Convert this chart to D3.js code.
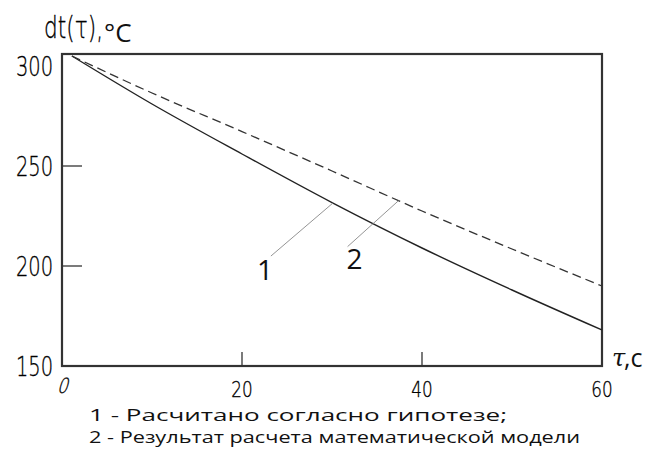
<!DOCTYPE html>
<html><head><meta charset="utf-8">
<script src="https://cdn.jsdelivr.net/npm/d3@7"></script>
<style>body{margin:0;background:#fff}</style>
</head><body>
<svg id="c" width="656" height="449"></svg>
<script>
// data
const tHyp   = [1.1, 10, 20, 30, 40, 50, 60];
const vHyp   = [305, 281, 256, 231.7, 209, 188, 168];
const tModel = [1.1, 10, 20, 30, 40, 50, 60];
const vModel = [305, 286.5, 267.2, 247.5, 227.5, 208.5, 190];
const xTicks = [0, 20, 40, 60];
const yTicks = [150, 200, 250, 300];
const labelAnchors = [{name:"1", t:30.1}, {name:"2", t:37.4}];
const legendLines = ["1 - Расчитано согласно гипотезе;", "2 - Результат расчета математической модели"];

const svg = d3.select("#c");
const x = d3.scaleLinear().domain([0, 60]).range([62, 602]);
const y = d3.scaleLinear().domain([150, 306]).range([366, 54]);

const narrow = "'DejaVu Sans', sans-serif";
function thin(sel) {
  return sel.attr("font-family", narrow).attr("font-weight", 200).attr("fill", "#000")
    .attr("stroke", "#000").attr("stroke-width", 0.35);
}

// frame
svg.append("rect").attr("x", x(0)).attr("y", y(306)).attr("width", x(60)-x(0)).attr("height", y(150)-y(306))
  .attr("fill", "none").attr("stroke", "#333").attr("stroke-width", 2.2);

// inner ticks
yTicks.filter(d => d > 150 && d < 300).forEach(d => {
  svg.append("line").attr("x1", x(0)).attr("x2", x(0)+20).attr("y1", y(d)).attr("y2", y(d))
    .attr("stroke", "#333").attr("stroke-width", 1.3);
});
xTicks.filter(d => d > 0 && d < 60).forEach(d => {
  svg.append("line").attr("x1", x(d)).attr("x2", x(d)).attr("y1", y(150)).attr("y2", y(150)-14)
    .attr("stroke", "#333").attr("stroke-width", 1.3);
});

// y labels
yTicks.forEach(d => {
  thin(svg.append("text")).attr("transform", `translate(${x(0)-9},${y(d)+10}) scale(0.72,1)`)
    .attr("text-anchor", "end").attr("font-size", 27).text(d);
});
// x labels
xTicks.forEach(d => {
  const g = thin(svg.append("text")).attr("font-size", 21).attr("text-anchor", "middle");
  if (d === 0) {
    g.attr("transform", `translate(${x(d)},${393}) skewX(-16) scale(0.8,1)`).text(d);
  } else {
    g.attr("transform", `translate(${x(d)},${397}) scale(0.8,1)`).text(d);
  }
});

// axis titles
thin(svg.append("text")).attr("transform", "translate(44,38) scale(0.7,1)").attr("font-size", 31).text("dt(τ),");
svg.append("text").attr("x", 104).attr("y", 42).attr("font-family", "'Open Sans', sans-serif")
  .attr("font-size", 26).attr("fill", "#111").text("°C");

svg.append("text").attr("x", 612).attr("y", 366).attr("font-family", "'DejaVu Serif', serif")
  .attr("font-style", "italic").attr("font-size", 24).attr("fill", "#111").text("τ");
svg.append("text").attr("x", 624).attr("y", 367).attr("font-family", "'Open Sans', sans-serif")
  .attr("font-size", 25).attr("fill", "#111").text(",c");

// curves
const line = d3.line().x(d => x(d[0])).y(d => y(d[1])).curve(d3.curveMonotoneX);
const hyp = tHyp.map((t, i) => [t, vHyp[i]]);
const mod = tModel.map((t, i) => [t, vModel[i]]);
svg.append("path").attr("d", line(hyp)).attr("fill", "none").attr("stroke", "#222").attr("stroke-width", 1.4);
svg.append("path").attr("d", line(mod)).attr("fill", "none").attr("stroke", "#333").attr("stroke-width", 1.3)
  .attr("stroke-dasharray", "9,5");

// leader lines and number labels
function interp(ts, vs, t) {
  return d3.scaleLinear().domain(ts).range(vs)(t);
}
const series = [[tHyp, vHyp], [tModel, vModel]];
labelAnchors.forEach((a, i) => {
  const ax = x(a.t), ay = y(interp(series[i][0], series[i][1], a.t));
  const ex = ax - (i === 0 ? 62 : 51), ey = ay + (i === 0 ? 53 : 46);
  svg.append("line").attr("x1", ex).attr("y1", ey).attr("x2", ax).attr("y2", ay)
    .attr("stroke", "#888").attr("stroke-width", 0.9);
  svg.append("text").attr("x", i === 0 ? ex - 6 : ex + 7).attr("y", i === 0 ? ey + 24 : ey + 22)
    .attr("text-anchor", "middle").attr("font-family", "'Open Sans', sans-serif")
    .attr("font-size", 28).attr("fill", "#111").text(a.name);
});

// legend text
const legendWidths = [418, 491];
legendLines.forEach((s, i) => {
  svg.append("text").attr("x", 89).attr("y", 421 + i * 22).attr("font-family", "'Open Sans', sans-serif")
    .attr("font-size", 16).attr("fill", "#111")
    .attr("textLength", legendWidths[i]).attr("lengthAdjust", "spacingAndGlyphs").text(s);
});
</script>
</body></html>
